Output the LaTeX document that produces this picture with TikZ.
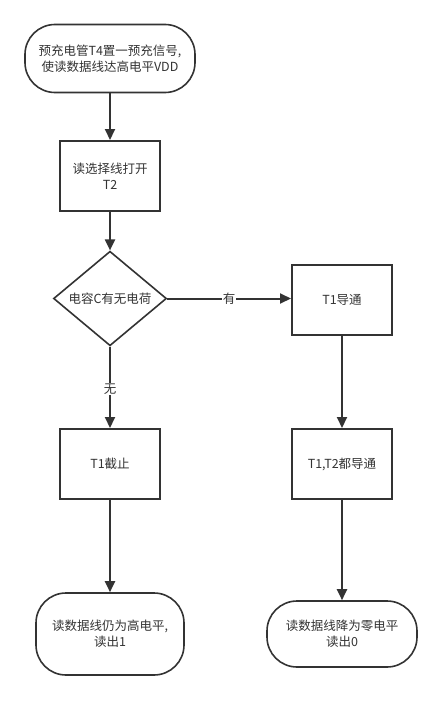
\documentclass[tikz,border=0pt]{standalone}
\usepackage{fontspec}
\setmainfont{Noto Sans CJK SC}
\usetikzlibrary{shapes.geometric,arrows.meta}
\definecolor{ink}{HTML}{333333}
\begin{document}
\begin{tikzpicture}[x=1pt,y=-1pt,
  every node/.style={font=\fontsize{12.5}{16}\selectfont, text=ink, align=center, inner sep=0pt},
  proc/.style={draw=ink, line width=2pt, minimum width=100pt, minimum height=70pt},
  term/.style={draw=ink, line width=1.6pt, rounded corners=30pt},
  dec/.style={draw=ink, line width=1.6pt, diamond, minimum width=113pt, minimum height=93pt},
  conn/.style={draw=ink, line width=2pt, -{Triangle[length=11pt,width=10pt]}},
  lab/.style={fill=white, inner sep=1pt}]
\useasboundingbox (0,0) rectangle (442,701);
\node[term, minimum width=170pt, minimum height=68pt] (start) at (110,58.5) {预充电管T4置一预充信号,\\使读数据线达高电平VDD};
\node[proc] (sel) at (110,176) {读选择线打开\\T2};
\node[dec] (cap) at (110,298.5) {电容C有无电荷};
\node[proc] (on1) at (342,299.5) {T1导通};
\node[proc] (on2) at (342,464) {T1,T2都导通};
\node[proc] (off) at (110,464) {T1截止};
\node[term, minimum width=148pt, minimum height=82pt] (end1) at (110,634) {读数据线仍为高电平,\\读出1};
\node[term, minimum width=150pt, minimum height=66pt] (end0) at (342,634) {读数据线降为零电平\\读出0};
\draw[conn] (start) -- (sel);
\draw[conn] (sel) -- (cap);
\draw[conn] (cap.east) -- node[lab, pos=0.5] {有} (on1.west |- cap.east);
\draw[conn] (cap.south) -- node[lab, pos=0.52] {无} (off);
\draw[conn] (on1) -- (on2);
\draw[conn] (off) -- (end1);
\draw[conn] (on2) -- (end0);
\end{tikzpicture}
\end{document}
